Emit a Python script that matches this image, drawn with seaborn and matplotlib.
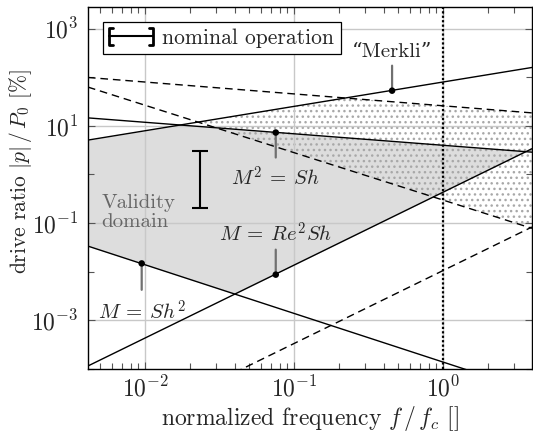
import numpy as np
import pandas as pd
import matplotlib
matplotlib.use("Agg")
import matplotlib.pyplot as plt
import seaborn as sns
from matplotlib.lines import Line2D
from matplotlib.legend_handler import HandlerBase
from matplotlib.ticker import FixedLocator, LogFormatterSciNotation, NullFormatter, LogLocator

# ---- data ----
f_lim = [4.14e-3, 3.95]           # x-range of the plot
# straight lines (log-log), values at the two ends of f_lim
line_merkli = [5.1, 159.0]        # solid, rising (upper validity bound)
line_m2sh = [14.6, 2.88]          # solid, slowly falling  M^2 = Sh
line_re2sh = [1.15e-4, 3.39]      # solid, rising  M = Re^2 Sh
line_sh2 = [3.36e-2, 3.5e-5]      # solid, falling  M = Sh^2
dash_top = [99.0, 18.5]           # dashed, slowly falling
dash_steep = [62.8, 0.078]        # dashed, steeply falling
dash_rise = [2.8e-6, 8.3e-2]      # dashed, rising

pt_f = [0.455, 0.0754, 0.0754, 0.0095]
pt_y = [53.0, 7.3, 8.7e-3, 1.48e-2]
pt_label = ["\u201cMerkli\u201d", r"$M^2\:=\:Sh$", r"$M\:=\:Re^2Sh$", r"$M\:=\:Sh^2$"]

nom_f = 0.0233
nom_lo, nom_hi = 0.2, 3.1

cutoff_f = 1.0

# label placement (points, + above / - below the marked point)
label_off = [27.5, -32.5, 29.5, -34.5]
pin_len = [18, -18, 18, -19]

# ---- style ----
sns.set_theme(style="ticks")
plt.rcParams["font.family"] = ["cmr10", "DejaVu Serif"]
plt.rcParams["mathtext.fontset"] = "cm"
plt.rcParams["axes.unicode_minus"] = False
plt.rcParams["axes.formatter.use_mathtext"] = True
plt.rcParams["hatch.color"] = "#a8a8a8"
plt.rcParams["hatch.linewidth"] = 1.0

fig = plt.figure(figsize=(5.33, 4.32), dpi=100)
ax = fig.add_axes([0.165, 0.146, 0.833, 0.838])
ax.set_xscale("log")
ax.set_yscale("log")
ax.set_xlim(*f_lim)
ax.set_ylim(1e-4, 2.8e3)

fgrid = np.logspace(np.log10(f_lim[0]), np.log10(f_lim[1]), 400)
def lin(vals):
    lf = np.log10(f_lim)
    return 10 ** np.interp(np.log10(fgrid), lf, np.log10(vals))

A, B, C, D = lin(line_merkli), lin(line_m2sh), lin(line_re2sh), lin(line_sh2)
E, F, G = lin(dash_top), lin(dash_steep), lin(dash_rise)

# validity domain (gray)
top = np.minimum(A, B)
bot = np.maximum(C, D)
ax.fill_between(fgrid, bot, top, where=top > bot, color="#dddddd", lw=0, zorder=0.2, interpolate=True)
# stippled region
top2 = np.minimum(A, E)
ax.fill_between(fgrid, F, top2, where=top2 > F, facecolor="none", edgecolor="#a8a8a8",
                hatch="...", lw=0, zorder=0.3, interpolate=True)

ax.grid(True, which="major", color="#c8c8c8", lw=1.0)
ax.set_axisbelow(True)

solid = dict(color="black", lw=1.0, zorder=3)
for vals in [line_merkli, line_m2sh, line_re2sh, line_sh2]:
    sns.lineplot(x=f_lim, y=vals, ax=ax, **solid)
for vals in [dash_top, dash_steep, dash_rise]:
    l = sns.lineplot(x=f_lim, y=vals, ax=ax, color="black", lw=1.0, zorder=3)
    l.lines[-1].set_dashes((5.5, 3.5))

ax.axvline(cutoff_f, color="black", ls=(0, (1, 1)), lw=1.6, zorder=3)

# pins and labels
for fx, fy, lab, d, p in zip(pt_f, pt_y, pt_label, label_off, pin_len):
    ax.annotate("", xy=(fx, fy), xytext=(0, p), textcoords="offset points",
                arrowprops=dict(arrowstyle="-", color="#707070", lw=1.6, shrinkA=0, shrinkB=0), zorder=4)
    ax.annotate(lab, xy=(fx, fy), xytext=(0, d), textcoords="offset points",
                ha="center", va="center", fontsize=15, zorder=5)
sns.scatterplot(x=pt_f, y=pt_y, ax=ax, color="black", s=22, zorder=6, edgecolor="none")

# nominal operation error bar
yc = np.sqrt(nom_lo * nom_hi)
ax.errorbar([nom_f], [yc], yerr=[[yc - nom_lo], [nom_hi - yc]], fmt="none", ecolor="black",
            elinewidth=1.5, capsize=6, capthick=1.5, zorder=5)

ax.text(5.1e-3, 0.165, "Validity\ndomain", color="#666666", fontsize=15, ha="left", va="center",
        linespacing=1.05, zorder=5)

# ticks
ax.xaxis.set_minor_locator(LogLocator(base=10, subs=np.arange(2, 10), numticks=20))
ax.xaxis.set_minor_formatter(NullFormatter())
ax.yaxis.set_major_locator(FixedLocator([1e-3, 1e-1, 1e1, 1e3]))
ax.yaxis.set_major_formatter(LogFormatterSciNotation())
ax.yaxis.set_minor_locator(FixedLocator([1e-4, 1e-2, 1e0, 1e2]))
ax.yaxis.set_minor_formatter(NullFormatter())
ax.tick_params(which="both", direction="in", top=True, right=True, color="#555555")
ax.tick_params(which="major", length=5, width=0.8, labelsize=17, pad=5)
ax.tick_params(axis="y", which="major", pad=7)
ax.tick_params(which="minor", length=4, width=0.8)
for s in ax.spines.values():
    s.set_color("black")
    s.set_linewidth(1.0)

ax.set_xlabel(r"normalized frequency $f\,/\,f_c$ []", fontsize=17)
ax.set_ylabel(r"drive ratio $|p|\,/\,P_0$ [%]", fontsize=15.5)
ax.xaxis.set_label_coords(0.5, -0.098)
ax.yaxis.set_label_coords(-0.122, 0.545)


class BracketHandler(HandlerBase):
    def create_artists(self, legend, orig_handle, xdescent, ydescent, width, height, fontsize, trans):
        y = height / 2 - ydescent
        x0, x1 = -xdescent, -xdescent + width
        h, s = 6.0, 2.2
        arts = [Line2D([x0, x1], [y, y], color="black", lw=1.5),
                Line2D([x0 + s, x0, x0, x0 + s], [y + h, y + h, y - h, y - h], color="black", lw=2.0),
                Line2D([x1 - s, x1, x1, x1 - s], [y + h, y + h, y - h, y - h], color="black", lw=2.0)]
        for a in arts:
            a.set_transform(trans)
        return arts


handle = Line2D([], [], color="black")
leg = ax.legend([handle], ["nominal operation"], loc="upper left", fontsize=15.5,
                handler_map={Line2D: BracketHandler()},
                frameon=True, fancybox=False, edgecolor="black", framealpha=1, handlelength=2.0,
                borderaxespad=0.7, handletextpad=0.45, borderpad=0.3)
leg.get_frame().set_linewidth(0.9)
leg.set_zorder(10)

fig.savefig("out.png", dpi=100)
